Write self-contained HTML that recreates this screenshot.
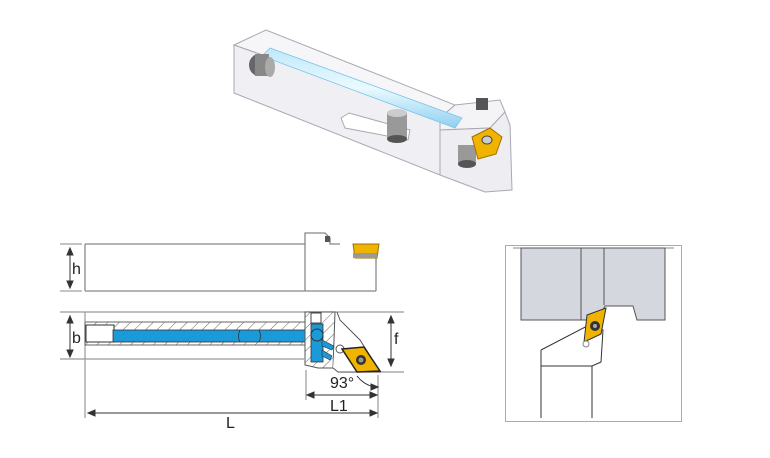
<!DOCTYPE html>
<html><head><meta charset="utf-8"><style>
body{margin:0;background:#fff;}
svg{display:block;font-family:"Liberation Sans",sans-serif;}
</style></head><body>
<svg width="770" height="458" viewBox="0 0 770 458">
<defs>
<pattern id="hat" width="8" height="8" patternUnits="userSpaceOnUse" patternTransform="rotate(45)">
<rect width="8" height="8" fill="#fff"/><line x1="0" y1="0" x2="0" y2="8" stroke="#666" stroke-width="1"/></pattern>
<linearGradient id="tube" x1="0" y1="0" x2="0" y2="1"><stop offset="0" stop-color="#bfe8fb"/><stop offset="0.5" stop-color="#eafaff"/><stop offset="1" stop-color="#8fd0f0"/></linearGradient>
</defs>
<!-- 3D view -->
<g stroke="#a8a8b2" stroke-width="1" fill="#f1f1f5">
<polygon points="234,45 266,30 455,105 440,118" fill="#f6f6f9"/>
<polygon points="234,45 440,118 440,175 234,93" fill="#f0f0f4"/>
<polygon points="440,118 455,105 500,100 505,112 490,128 440,130" fill="#f4f4f7"/>
<polygon points="440,130 490,128 505,112 510,125 512,190 485,192 440,175" fill="#eeeef2"/>
<polygon points="341,118 349,113 410,130 408,140 345,128" fill="#fff"/>
</g>
<polygon points="262,56 270,48 462,118 455,128" fill="url(#tube)" stroke="#7cc4e6" stroke-width="0.8"/>
<ellipse cx="259" cy="65" rx="10" ry="11" fill="#666"/><rect x="255" y="54" width="14" height="22" fill="#888"/><ellipse cx="270" cy="67" rx="5" ry="10" fill="#aaa"/>
<rect x="387" y="112" width="20" height="27" fill="#999"/><ellipse cx="397" cy="113" rx="10" ry="4" fill="#ccc"/><ellipse cx="397" cy="139" rx="10" ry="4" fill="#555"/>
<rect x="458" y="145" width="18" height="20" fill="#999"/><ellipse cx="467" cy="164" rx="9" ry="4" fill="#555"/>
<rect x="476" y="98" width="12" height="12" fill="#555"/>
<polygon points="472,137 490,128 502,137 496,154 478,159" fill="#f0b400" stroke="#a07000"/>
<ellipse cx="487" cy="140" rx="5" ry="4" fill="#ccc" stroke="#444"/>
<!-- top side view -->
<g stroke="#888" stroke-width="1.3" fill="none">
<polyline points="85,244 305,244 305,233 325,233 330,238 330,244 340,244"/>
<line x1="85" y1="244" x2="85" y2="291"/><line x1="85" y1="291" x2="376" y2="291"/>
<line x1="305" y1="244" x2="305" y2="291"/><line x1="376" y1="258" x2="376" y2="291"/>
<line x1="60" y1="244" x2="82" y2="244" stroke-width="1"/><line x1="60" y1="291" x2="82" y2="291" stroke-width="1"/>
</g>
<rect x="325" y="236" width="5" height="6" fill="#555"/>
<polygon points="353,244 379,244 377,258 355,258" fill="#f0b400" stroke="#a07000"/>
<rect x="353" y="253" width="24" height="5" fill="#999"/>
<!-- front section view -->
<g stroke="#999" stroke-width="1.2" fill="none">
<line x1="60" y1="312" x2="404" y2="312"/><line x1="60" y1="359" x2="304" y2="359"/>
<line x1="340" y1="372" x2="404" y2="372"/>
<line x1="85" y1="312" x2="85" y2="418"/><line x1="306" y1="370" x2="306" y2="400"/><line x1="378" y1="375" x2="378" y2="418"/>
</g>
<rect x="85" y="322" width="220" height="23" fill="url(#hat)" stroke="#666"/>
<rect x="86" y="325" width="28" height="17" fill="#fff" stroke="#333"/>
<rect x="113" y="330" width="192" height="12" fill="#1a9ad8" stroke="#333" stroke-width="0.8"/>
<path d="M240,330 q-3,6 0,12 M259,330 q3,6 0,12" stroke="#333" fill="none" stroke-width="0.8"/>
<polygon points="305,312 335,312 333,368 318,368 305,365" fill="url(#hat)" stroke="#555"/>
<rect x="311" y="313" width="10" height="10" fill="#fff" stroke="#444"/>
<rect x="311" y="324" width="12" height="38" fill="#1a9ad8" stroke="#333" stroke-width="0.8"/>
<circle cx="317" cy="335" r="6" fill="#1a9ad8" stroke="#333"/>
<polygon points="322,340 334,346 332,350 322,346" fill="#1a9ad8" stroke="#333" stroke-width="0.6"/>
<polygon points="322,350 332,356 330,360 322,356" fill="#1a9ad8" stroke="#333" stroke-width="0.6"/>
<polyline points="337,312 340,320 360,340 380,372 338,372 333,368" fill="#fff" stroke="#555"/>
<circle cx="340" cy="349" r="4" fill="#fff" stroke="#555"/>
<polygon points="342,349 364,347 380,371 357,372" fill="#f0b400" stroke="#222" stroke-width="1.5"/>
<circle cx="361" cy="360" r="5" fill="#333"/><circle cx="361" cy="360" r="2.5" fill="#999"/>
<!-- dimensions -->
<g stroke="#333" stroke-width="1" fill="#333">
<line x1="70" y1="250" x2="70" y2="286"/><polygon points="70,248 67,255 73,255"/><polygon points="70,288 67,281 73,281"/>
<line x1="70" y1="318" x2="70" y2="355"/><polygon points="70,316 67,323 73,323"/><polygon points="70,357 67,350 73,350"/>
<line x1="391" y1="318" x2="391" y2="364"/><polygon points="391,316 388,323 394,323"/><polygon points="391,366 388,359 394,359"/>
<line x1="309" y1="395" x2="375" y2="395"/><polygon points="307,395 314,392 314,398"/><polygon points="377,395 370,392 370,398"/>
<line x1="90" y1="413" x2="375" y2="413"/><polygon points="88,413 95,410 95,416"/><polygon points="377,413 370,410 370,416"/>
<path d="M357,376 q8,10 19,11" fill="none"/><polygon points="378,387 371,384 371,390"/>
</g>
<g fill="#222" font-size="16">
<text x="72" y="274">h</text><text x="72" y="343">b</text><text x="394" y="344">f</text>
<text x="330" y="388">93°</text><text x="330" y="411">L1</text><text x="226" y="428">L</text>
</g>
<!-- detail box -->
<rect x="505.5" y="245.5" width="176" height="176" fill="#fff" stroke="#aaa"/>
<line x1="513" y1="248" x2="674" y2="248" stroke="#888"/>
<path d="M521,248 H665 V320 H637 L633,306 H605 L598,320 H521 Z" fill="#d5d7de" stroke="#555"/>
<line x1="581" y1="248" x2="581" y2="320" stroke="#555"/><line x1="604" y1="248" x2="604" y2="305" stroke="#555"/>
<polyline points="541,350 541,418" stroke="#333" fill="none"/><polyline points="592,366 592,418" stroke="#333" fill="none"/>
<polyline points="541,350 589,325 603,330 601,362 592,366 541,366" stroke="#333" fill="none"/>
<polygon points="587,315 606,308 601,334 584,342" fill="#f0b400" stroke="#333"/>
<circle cx="595" cy="326" r="5" fill="#333"/><circle cx="595" cy="326" r="2" fill="#aaa"/>
<circle cx="586" cy="344" r="3" fill="#fff" stroke="#888"/>
</svg>
</body></html>
